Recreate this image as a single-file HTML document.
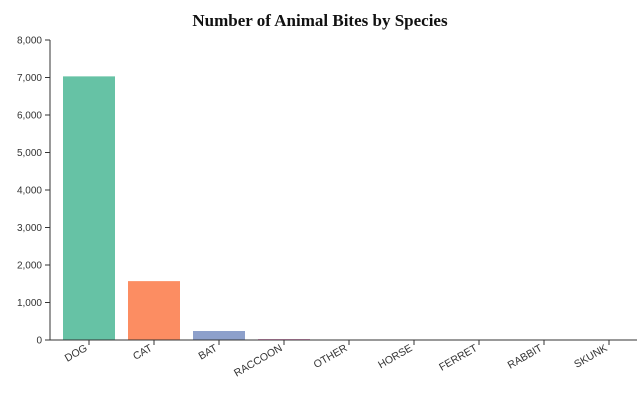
<!DOCTYPE html>
<html><head><meta charset="utf-8"><style>
body{margin:0;background:#fff}
svg text{font-family:"Liberation Sans",sans-serif;fill:#333}
</style></head><body>
<svg width="640" height="400" id="c">
<text x="320" y="26" text-anchor="middle" style="font-family:'Liberation Serif',serif;font-weight:bold;font-size:17px;fill:#111">Number of Animal Bites by Species</text>
</svg>
<script>
const categories=["DOG","CAT","BAT","RACCOON","OTHER","HORSE","FERRET","RABBIT","SKUNK"];
const values=[7030,1570,240,25,5,3,2,2,1];
const colors=["#66c2a5","#fc8d62","#8da0cb","#e78ac3","#a6d854","#ffd92f","#e5c494","#b3b3b3","#66c2a5"];
const yTicks=[0,1000,2000,3000,4000,5000,6000,7000,8000];
const svg=document.getElementById('c');const NS="http://www.w3.org/2000/svg";
const x0=50,step=65,pad=13,bw=52,yBase=340,yTop=40,yMax=8000;
const y=v=>yBase-(v/yMax)*(yBase-yTop);
const xb=i=>x0+pad+i*step;
function mk(t,a){const e=document.createElementNS(NS,t);for(const k in a)e.setAttribute(k,a[k]);svg.appendChild(e);return e;}
categories.forEach((c,i)=>{
 const r=mk('rect',{x:xb(i),y:y(values[i]),width:bw,height:yBase-y(values[i]),fill:colors[i]});
 
 
 const cx=xb(i)+bw/2;
 const tk=mk('line',{x1:cx,x2:cx,y1:yBase,y2:yBase+5,stroke:'#333'});
 
 
 const t=mk('text',{x:cx-1,y:yBase+10,'text-anchor':'end','font-size':'10.5',transform:`rotate(-30 ${cx-1} ${yBase+10})`});
 t.textContent=c;
 
 
});
yTicks.forEach(v=>{
 const tk=mk('line',{x1:x0-5,x2:x0,y1:y(v),y2:y(v),stroke:'#333'});
 
 
 const t=mk('text',{x:x0-8,y:y(v)+3.5,'text-anchor':'end','font-size':'10'});
 t.textContent=v.toLocaleString('en-US');
 
 
});
const ya=mk('line',{x1:x0,x2:x0,y1:yTop,y2:yBase,stroke:'#333'});


const xa=mk('line',{x1:x0,x2:637,y1:yBase,y2:yBase,stroke:'#333'});


</script>
</body></html>
